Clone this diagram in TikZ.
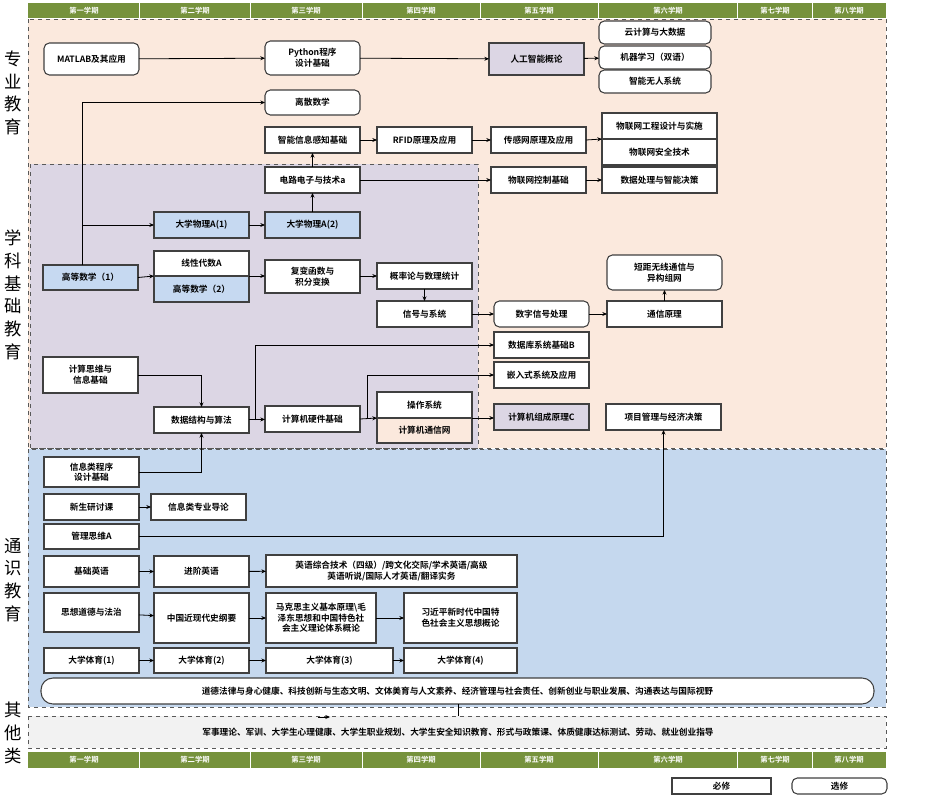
\documentclass[tikz,border=0pt]{standalone}
\usepackage{fontspec}
\setmainfont{Noto Sans CJK SC}[BoldFont={Noto Sans CJK SC Bold}]
\usetikzlibrary{arrows.meta}
\definecolor{hdr}{HTML}{76923C}
\definecolor{peach}{HTML}{FBE9DD}
\definecolor{lav}{HTML}{DCD6E4}
\definecolor{lblue}{HTML}{C5D8EE}
\definecolor{gry}{HTML}{F2F2F2}
\definecolor{bfill}{HTML}{C6D9F1}
\definecolor{bline}{HTML}{404040}
\tikzset{
  box/.style={draw=bline,line width=0.8pt,fill=white,inner sep=1pt,align=center,font=\fontsize{6.5}{8}\selectfont\bfseries,outer sep=0pt},
  rbox/.style={box,rounded corners=4pt},
  region/.style={draw=gray!70!black,dashed,line width=0.7pt},
  arr/.style={-{Stealth[length=3.5pt,width=3pt]},line width=0.6pt,black},
  ln/.style={line width=0.6pt,black},
  side/.style={font=\fontsize{13}{17}\selectfont,align=center},
  sem/.style={font=\fontsize{5.5}{6}\selectfont\bfseries,text=white}
}
\newcommand\bx[7]{\node[#6,minimum width={(#4-#2)*0.75pt},minimum height={(#5-#3)*0.75pt},text width={(#4-#2-4)*0.75pt}] (#1) at ({(#2+#4)/2},{(#3+#5)/2}) {#7};}
\begin{document}
\begin{tikzpicture}[x=0.75pt,y=-0.75pt]
\useasboundingbox (0,0) rectangle (926,803);
% regions
\fill[peach] (28,19) rectangle (886,448);
\draw[region] (28,19) rectangle (886,448);
\fill[lav] (30,164) rectangle (478,448);
\draw[region] (30,164) rectangle (478,448);
\fill[lblue] (28,449) rectangle (886,707);
\draw[region] (28,449) rectangle (886,707);
\fill[gry] (28,716) rectangle (886,748);
\draw[region] (28,716) rectangle (886,748);
% headers
\foreach \ya/\yb in {3/18,752/768}{
  \fill[hdr] (28,\ya) rectangle (886,\yb);
  \foreach \xd in {139,250,362,480,598,737,812} \draw[white,line width=0.6pt] (\xd,\ya) -- (\xd,\yb);
  \foreach \xc/\t in {84/第一学期,195/第二学期,306/第三学期,421/第四学期,539/第五学期,668/第六学期,775/第七学期,849/第八学期}
    \node[sem] at (\xc,{(\ya+\yb)/2}) {\t};
}
% side labels
\node[side] (s1) at (13,93) {专\\业\\教\\育};
\node[side] (s2) at (13,295) {学\\科\\基\\础\\教\\育};
\node[side] (s3) at (13,580) {通\\识\\教\\育};
\node[side] (s4) at (13,733) {其\\他\\类};
% professional
\bx{mat}{44}{43}{139}{75}{rbox}{MATLAB及其应用}
\bx{py}{265}{41}{360}{75}{rbox}{Python程序\\设计基础}
\bx{ai}{489}{43}{584}{75}{box,fill=lav}{人工智能概论}
\bx{cloud}{599}{21}{711}{44}{rbox}{云计算与大数据}
\bx{ml}{599}{46}{711}{69}{rbox}{机器学习（双语）}
\bx{uav}{599}{70}{711}{93}{rbox}{智能无人系统}
\bx{lisan}{265}{90}{360}{115}{rbox}{离散数学}
\bx{zn}{265}{127}{360}{153}{box}{智能信息感知基础}
\bx{rfid}{377}{127}{472}{153}{box}{RFID原理及应用}
\bx{cgw}{491}{127}{586}{153}{box}{传感网原理及应用}
\bx{wlgc}{602}{113}{717}{139}{box}{物联网工程设计与实施}
\bx{wlaq}{602}{139}{717}{165}{box}{物联网安全技术}
\bx{dl}{265}{167}{360}{193}{box}{电路电子与技术a}
\bx{wlkz}{491}{167}{586}{193}{box}{物联网控制基础}
\bx{sjcl}{602}{167}{717}{193}{box}{数据处理与智能决策}
\bx{wl1}{154}{212}{249}{238}{box,fill=bfill}{大学物理A(1)}
\bx{wl2}{265}{212}{360}{238}{box,fill=bfill}{大学物理A(2)}
\bx{gs1}{43}{265}{138}{290}{box,fill=bfill}{高等数学（1）}
\bx{xd}{154}{251}{249}{276}{box}{线性代数A}
\bx{gs2}{154}{276}{249}{302}{box,fill=bfill}{高等数学（2）}
\bx{fb}{265}{260}{360}{293}{box}{复变函数与\\积分变换}
\bx{gl}{377}{263}{472}{289}{box}{概率论与数理统计}
\bx{xh}{377}{301}{472}{327}{box}{信号与系统}
\bx{dj}{607}{255}{722}{290}{rbox}{短距无线通信与\\异构组网}
\bx{sz}{494}{301}{589}{327}{rbox}{数字信号处理}
\bx{tx}{607}{301}{722}{327}{box}{通信原理}
\bx{db}{494}{332}{589}{358}{box}{数据库系统基础B}
\bx{qr}{494}{362}{589}{388}{box}{嵌入式系统及应用}
\bx{js}{43}{357}{138}{393}{box}{计算思维与\\信息基础}
\bx{ds}{154}{407}{249}{433}{box}{数据结构与算法}
\bx{yj}{265}{406}{360}{432}{box}{计算机硬件基础}
\bx{os}{377}{392}{472}{418}{box}{操作系统}
\bx{net}{377}{418}{472}{443}{box,fill=peach}{计算机通信网}
\bx{zc}{494}{404}{589}{430}{box,fill=lav}{计算机组成原理C}
\bx{xm}{606}{404}{721}{430}{box}{项目管理与经济决策}
% general
\bx{xxl}{44}{457}{139}{487}{box}{信息类程序\\设计基础}
\bx{xs}{44}{494}{139}{520}{box}{新生研讨课}
\bx{dy}{151}{494}{246}{520}{box}{信息类专业导论}
\bx{gl2}{44}{524}{139}{549}{box}{管理思维A}
\bx{jy}{44}{556}{139}{587}{box}{基础英语}
\bx{jj}{154}{556}{249}{587}{box}{进阶英语}
\bx{yz}{266}{555}{517}{587}{box}{英语综合技术（四级）/跨文化交际/学术英语/高级\\英语听说/国际人才英语/翻译实务}
\bx{sx}{44}{593}{139}{632}{box}{思想道德与法治}
\bx{zg}{154}{593}{249}{643}{box}{中国近现代史纲要}
\bx{mk}{266}{593}{376}{643}{box}{马克思主义基本原理\textbackslash 毛\\泽东思想和中国特色社\\会主义理论体系概论}
\bx{xj}{404}{593}{517}{643}{box}{习近平新时代中国特\\色社会主义思想概论}
\bx{ty1}{44}{648}{139}{673}{box}{大学体育(1)}
\bx{ty2}{154}{648}{249}{673}{box}{大学体育(2)}
\bx{ty3}{266}{648}{393}{673}{box}{大学体育(3)}
\bx{ty4}{404}{648}{517}{673}{box}{大学体育(4)}
\bx{dd}{41}{678}{874}{704}{box,rounded corners=9pt}{道德法律与身心健康、科技创新与生态文明、文体美育与人文素养、经济管理与社会责任、创新创业与职业发展、沟通表达与国际视野}
\node[font=\fontsize{6.5}{8}\selectfont\bfseries] (other) at (458,732) {军事理论、军训、大学生心理健康、大学生职业规划、大学生安全知识教育、形式与政策课、体质健康达标测试、劳动、就业创业指导};
\bx{bx1}{672}{778}{771}{794}{box}{必修}
\bx{bx2}{792}{778}{887}{794}{rbox}{选修}
% connectors
\draw[arr] (mat) -- (py);
\draw[arr] (py) -- (ai);
\draw[arr] (ai) -- (ml);
\draw[arr] (gs1.north -| 82,0) |- (lisan.west);
\coordinate (br) at (82,225);
\draw[arr] (br) -- (wl1);
\draw[arr] (wl1) -- (wl2);
\draw[arr] (wl2) -- (dl);
\draw[arr] (dl) -- (zn);
\draw[arr] (zn) -- (rfid);
\draw[arr] (rfid) -- (cgw);
\draw[arr] (cgw.east) -- (wlgc.south west);
\draw[arr] (dl) -- (wlkz);
\draw[arr] (wlkz) -- (sjcl);
\draw[arr] (gs1.east) -- (xd.south west);
\draw[arr] (xd.south east) -- (xd.south east -| fb.west);
\draw[arr] (fb.east |- gl) -- (gl.west);
\draw[arr] (gl) -- (xh);
\draw[arr] (xh) -- (sz);
\draw[arr] (sz) -- (tx);
\draw[arr] (tx) -- (dj);
\draw[arr] (js.east) -| (ds.north);
\draw[arr] (xxl.east) -| (ds.south);
\draw[arr] (ds) -- (yj);
\coordinate (b1) at (255,420);
\draw[arr] (b1) |- (db.west);
\draw[arr] (yj.east) -- (os.south west);
\coordinate (b2) at (367,418);
\draw[arr] (b2) |- (qr.west);
\draw[arr] (os.south east) -- (os.south east -| zc.west);
\draw[arr] (gl2.east) -| (xm.south);
\draw[arr] (xs) -- (dy);
\draw[arr] (jy) -- (jj);
\draw[arr] (jj) -- (yz);
\draw[arr] (sx) -- (zg);
\draw[arr] (zg) -- (mk);
\draw[arr] (mk) -- (xj);
\draw[arr] (ty1) -- (ty2);
\draw[arr] (ty2) -- (ty3);
\draw[arr] (ty3) -- (ty4);
\coordinate (dd1) at (458,716);
\draw[ln] (dd.south -| dd1) -- (dd1);
\coordinate (t1) at (318,717);
\coordinate (t2) at (330,717);
\draw[arr] (t1) -- (t2);
\end{tikzpicture}
\end{document}
